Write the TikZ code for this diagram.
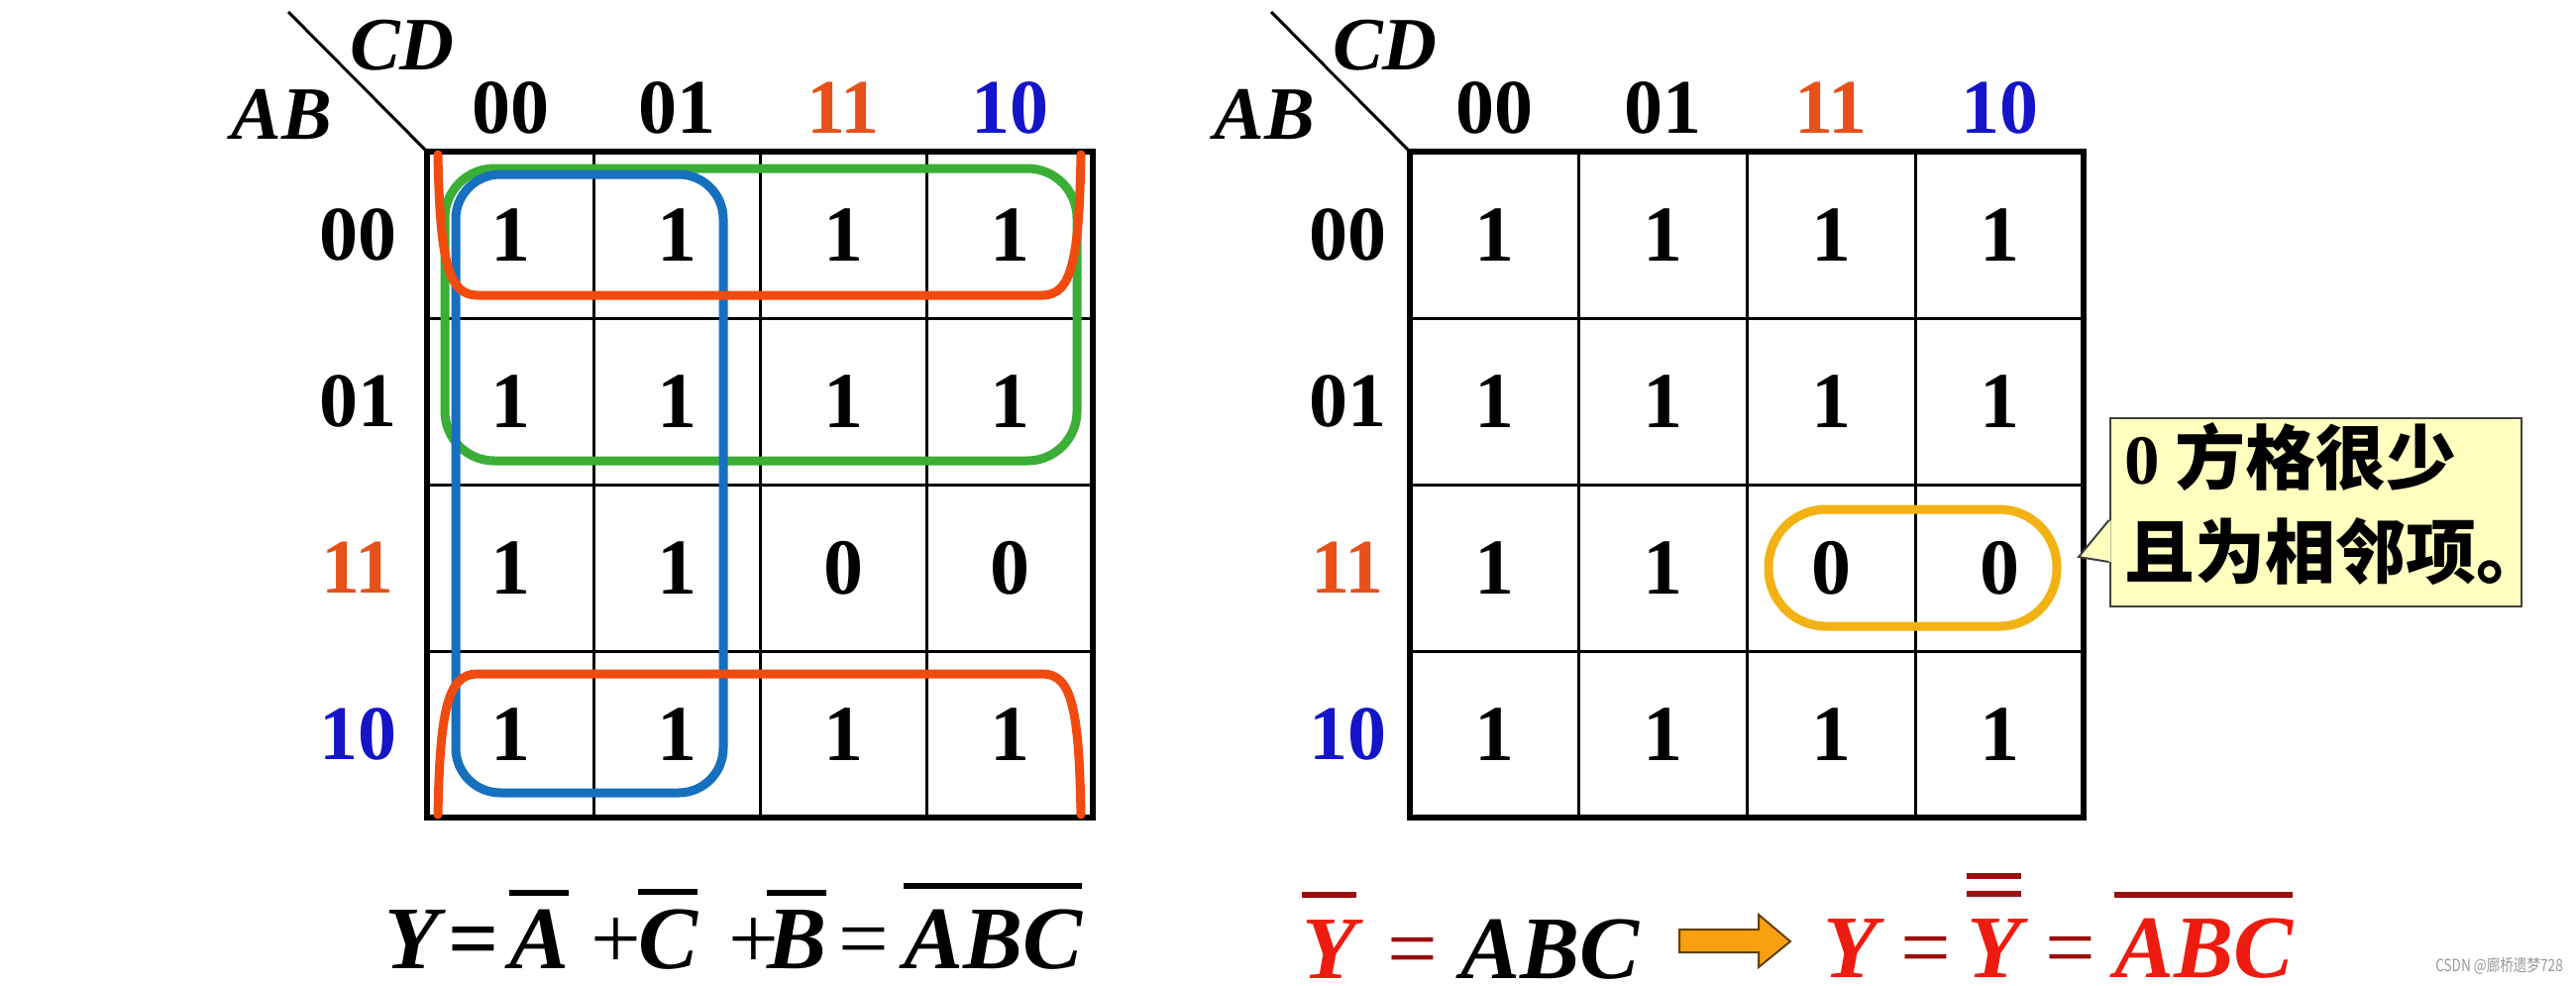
\documentclass[tikz,border=0pt]{standalone}
\usepackage{fontspec}
\setmainfont{Liberation Serif}
\newfontfamily\cjk{Noto Sans CJK SC}
\usetikzlibrary{calc}
\definecolor{kloop}{HTML}{F24B0F}
\definecolor{hdorange}{HTML}{E8501A}
\definecolor{hdblue}{HTML}{1414C8}
\definecolor{bloopc}{HTML}{1670BE}
\definecolor{gloopc}{HTML}{3AAE35}
\definecolor{yloopc}{HTML}{F2B213}
\definecolor{callfill}{HTML}{FFFFC0}
\definecolor{fred}{HTML}{EE1C10}
\definecolor{fdred}{HTML}{9A1010}
\definecolor{arrowfill}{HTML}{F8A010}
\newcommand\fsz[1]{\fontsize{#1}{#1}\selectfont}
\newcommand\obar[3][6]{\leavevmode\vbox{\hrule height #1pt\kern#2pt\hbox{#3}}}
\newcommand\obbar[1]{\leavevmode\vbox{\hrule height 6pt\kern 12pt\hrule height 6pt\kern 22pt\hbox{#1}}}
\tikzset{
  outer/.style={line width=6pt},
  inner/.style={line width=3pt},
  cellnum/.style={inner sep=0pt, font=\fsz{80}\bfseries},
  hdr/.style={inner sep=0pt, font=\fsz{78}\bfseries},
  varlab/.style={inner sep=0pt, font=\fsz{76}\bfseries\itshape},
  loop/.style={line width=9pt, line join=round, line cap=round},
  fl/.style={inner sep=0pt, anchor=base west, font=\fsz{90}\bfseries\itshape},
}
\begin{document}
\begin{tikzpicture}[x=1pt,y=-1pt]
\useasboundingbox (0,0) rectangle (2600,994);
\fill[white] (0,0) rectangle (2600,994);

% ---------- grids ----------
\foreach \ox/\cw/\nm/\rx in {431/168/L/361, 1423/170/R/1360} {
  \foreach \k in {1,2,3} {
    \draw[inner] ({\ox+\cw*\k},153) -- ({\ox+\cw*\k},825);
    \draw[inner] (\ox,{153+168*\k}) -- ({\ox+4*\cw},{153+168*\k});
  }
  \draw[outer] (\ox,153) rectangle ({\ox+4*\cw},825);
  \foreach \ri/\va/\vb/\vc/\vd in {0/1/1/1/1, 1/1/1/1/1, 2/1/1/0/0, 3/1/1/1/1} {
    \foreach \cj/\v in {0/\va, 1/\vb, 2/\vc, 3/\vd} {
      \node[cellnum] (\nm\ri\cj) at ({\ox+\cw*(\cj+0.5)},{153+168*(\ri+0.5)}) {\v};
    }
  }
  \foreach \k/\t/\col in {0/00/black, 1/01/black, 2/11/hdorange, 3/10/hdblue} {
    \node[hdr, text=\col] (\nm h\k) at ({\ox+\cw*(\k+0.5)},109) {\t};
    \node[hdr, text=\col] (\nm v\k) at (\rx,{153+168*(\k+0.5)}) {\t};
  }
  \coordinate (\nm corner) at (\ox,153);
  \coordinate (\nm diag) at ({\ox-140},12);
  \node[varlab] (\nm AB) at ({\ox-147},116) {AB};
  \node[varlab] (\nm CD) at ({\ox-25},46) {CD};
  \draw[line width=3pt] (\nm diag) -- (\nm corner);
}

% ---------- left map loops ----------
\draw[loop, gloopc, rounded corners=50] (449,170) rectangle (1087,465);
\draw[loop, bloopc, rounded corners=45] (460,176) rectangle (730,800);
\draw[loop, kloop] (442,156) .. controls (444,262) and (452,298) .. (482,298)
   -- (1052,298) .. controls (1082,298) and (1089,262) .. (1091,156);
\draw[loop, kloop] (442,822) .. controls (444,716) and (452,680) .. (482,680)
   -- (1052,680) .. controls (1082,680) and (1089,716) .. (1091,822);

% ---------- right map loop ----------
\draw[loop, yloopc, rounded corners=58] (1785,514) rectangle (2076,632);

% ---------- callout ----------
\node[draw=black!75, line width=2pt, fill=callfill, inner sep=0pt,
      minimum width=415pt, minimum height=190pt] (call) at (2337,517) {};
\fill[callfill] ($(call.west)+(2,8)$) -- (2098,562) -- ($(call.west)+(2,50)$) -- cycle;
\draw[black!75, line width=2pt] ($(call.west)+(0,8)$) -- (2098,562) -- ($(call.west)+(0,50)$);
\node[anchor=north west, inner sep=0pt, align=left, font=\cjk\bfseries\fontsize{71}{95}\selectfont]
  (calltext) at (2144,426) {{\rmfamily\bfseries 0} 方格很少\\且为相邻项。};

% ---------- left formula ----------
\node[fl] (lY) at (388,977) {Y};
\node[fl] (leq1) at (452,977) {\upshape\bfseries =};
\node[fl] (lA) at (514,977) {\obar{14}{A}};
\node[fl] (lp1) at (596,977) {\upshape\mdseries +};
\node[fl] (lC) at (644,977) {\obar{14}{C}};
\node[fl] (lp2) at (735,977) {\upshape\mdseries +};
\node[fl] (lB) at (774,977) {\obar{14}{B}};
\node[fl] (leq2) at (846,977) {\upshape\mdseries =};
\node[fl] (lABC) at (912,977) {\obar{20}{ABC}};

% ---------- right formula ----------
\node[fl, text=fdred] (rYb) at (1314,987) {\obar{22}{\textcolor{fred}{Y}}};
\node[fl, text=fdred] (req1) at (1400,987) {\upshape\mdseries =};
\node[fl] (rABC) at (1474,987) {ABC};
\draw[draw=black!60!arrowfill, line width=2pt, fill=arrowfill]
  (1695,938) -- (1775,938) -- (1775,923) -- (1807,950) -- (1775,976) -- (1775,961) -- (1695,961) -- cycle;
\node[fl, text=fred] (rY) at (1840,986) {Y};
\node[fl, text=fdred] (req2) at (1918,986) {\upshape\mdseries =};
\node[fl, text=fdred] (rYbb) at (1985,986) {\obbar{\textcolor{fred}{Y}}};
\node[fl, text=fdred] (req3) at (2064,986) {\upshape\mdseries =};
\node[fl, text=fdred] (rABC2) at (2134,986) {\obar{20}{\textcolor{fred}{ABC}}};

% ---------- watermark ----------
\node[anchor=east, inner sep=0pt, text=black!40, font=\cjk\fontsize{17}{17}\selectfont] (wm) at (2587,975) {\scalebox{0.8}[1]{CSDN @廊桥遗梦728}};
\end{tikzpicture}
\end{document}
